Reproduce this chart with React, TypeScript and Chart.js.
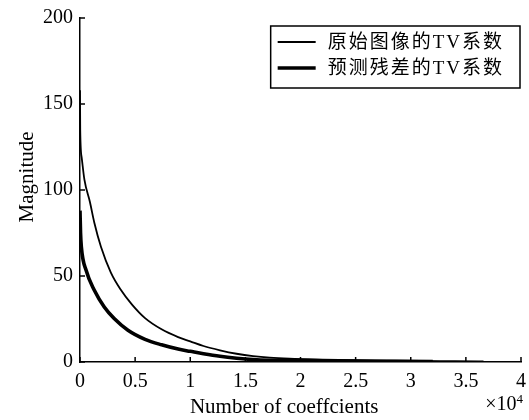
import React, { useEffect, useRef } from 'react';
import { Chart, registerables } from 'chart.js';

Chart.register(...registerables);

// Number of coefficients (absolute counts) and magnitudes
const originalX = [0, 20, 150, 400, 900, 1300, 1900, 2800, 3700, 4700, 5900, 7400, 8900, 10000, 11200, 12700, 14200, 15700, 17200, 19000, 22000, 25000, 28000, 31000, 34000, 36600];
const originalY = [158, 135, 119, 106, 93, 81, 67, 52, 42, 33.5, 25.5, 19, 14.5, 12, 9.3, 6.8, 4.8, 3.4, 2.5, 1.9, 1.4, 1.05, 0.8, 0.6, 0.45, 0.3];

const residualX = [0, 50, 120, 570, 1300, 2200, 3100, 4350, 5900, 7400, 8900, 10000, 11200, 12700, 14200, 15700, 17200, 20000, 24000, 28000, 32000];
const residualY = [88, 75, 67, 53, 41.7, 32, 25.3, 18.5, 13.2, 10, 7.5, 6.2, 4.8, 3.3, 2.2, 1.4, 1.0, 0.75, 0.55, 0.42, 0.3];

const seriesLabels = ['原始图像的TV系数', '预测残差的TV系数'];
const xTitle = 'Number of coeffcients';
const yTitle = 'Magnitude';
const xMultiplierBase = '×10';
const xMultiplierExp = '4';
const xTickValues = [0, 5000, 10000, 15000, 20000, 25000, 30000, 35000, 40000];
const yTickValues = [0, 50, 100, 150, 200];

const SERIF = '"Liberation Serif", "Times New Roman", "Noto Sans CJK SC", serif';

const axisDecor = {
  id: 'axisDecor',
  afterDraw(chart: any) {
    const { ctx, chartArea, scales } = chart;
    ctx.save();
    ctx.strokeStyle = '#000';
    ctx.lineWidth = 1.5;
    const len = 5;
    scales.x.ticks.forEach((t: any) => {
      const px = scales.x.getPixelForValue(t.value);
      ctx.beginPath();
      ctx.moveTo(px, chartArea.bottom);
      ctx.lineTo(px, chartArea.bottom - len);
      ctx.stroke();
    });
    scales.y.ticks.forEach((t: any) => {
      const py = scales.y.getPixelForValue(t.value);
      ctx.beginPath();
      ctx.moveTo(chartArea.left, py);
      ctx.lineTo(chartArea.left + len, py);
      ctx.stroke();
    });
    ctx.fillStyle = '#000';
    // x axis title
    ctx.font = `21px ${SERIF}`;
    ctx.textAlign = 'center';
    ctx.textBaseline = 'alphabetic';
    ctx.fillText(xTitle, chartArea.left + (chartArea.right - chartArea.left) * 0.463, chartArea.bottom + 51);
    // y axis title
    ctx.save();
    ctx.translate(33, chartArea.top + (chartArea.bottom - chartArea.top) * 0.462);
    ctx.rotate(-Math.PI / 2);
    ctx.fillText(yTitle, 0, 0);
    ctx.restore();
    // x10^4 multiplier
    ctx.textAlign = 'right';
    ctx.font = `13px ${SERIF}`;
    const expW = ctx.measureText(xMultiplierExp).width;
    const right = chartArea.right + 2;
    ctx.fillText(xMultiplierExp, right, chartArea.bottom + 41);
    ctx.font = `20px ${SERIF}`;
    ctx.fillText(xMultiplierBase, right - expW, chartArea.bottom + 48);
    ctx.restore();
  },
};

const boxLegend = {
  id: 'boxLegend',
  afterDraw(chart: any) {
    const { ctx, chartArea } = chart;
    const ds = chart.data.datasets;
    ctx.save();
    ctx.font = `19px ${SERIF}`;
    (ctx as any).letterSpacing = '2px';
    const textW = Math.max(...ds.map((d: any) => ctx.measureText(d.label).width));
    const padL = 7, lineLen = 38, gap = 12, padR = 16, rowH = 26, padT = 16;
    const w = padL + lineLen + gap + textW + padR;
    const h = 62;
    const right = chartArea.right - 1;
    const left = right - w;
    const top = chartArea.top + 8;
    ctx.strokeStyle = '#000';
    ctx.lineWidth = 1.5;
    ctx.strokeRect(left, top, w, h);
    ds.forEach((d: any, i: number) => {
      const y = top + padT + i * rowH;
      ctx.beginPath();
      ctx.lineWidth = d.borderWidth;
      ctx.moveTo(left + padL, y);
      ctx.lineTo(left + padL + lineLen, y);
      ctx.stroke();
      ctx.fillStyle = '#000';
      ctx.textBaseline = 'middle';
      ctx.textAlign = 'left';
      ctx.fillText(d.label, left + padL + lineLen + gap, y + 1);
    });
    ctx.restore();
  },
};

export default function App() {
  const ref = useRef<HTMLCanvasElement>(null);
  useEffect(() => {
    if (!ref.current) return;
    const chart = new Chart(ref.current, {
      type: 'line',
      data: {
        datasets: [
          {
            label: seriesLabels[0],
            data: originalX.map((x, i) => ({ x, y: originalY[i] })),
            borderColor: '#000',
            borderWidth: 1.8,
            pointRadius: 0,
            cubicInterpolationMode: 'monotone',
            fill: false,
          },
          {
            label: seriesLabels[1],
            data: residualX.map((x, i) => ({ x, y: residualY[i] })),
            borderColor: '#000',
            borderWidth: 3.6,
            pointRadius: 0,
            cubicInterpolationMode: 'monotone',
            fill: false,
          },
        ],
      },
      options: {
        animation: false,
        responsive: true,
        maintainAspectRatio: false,
        layout: { padding: { top: 18, right: 8, left: 0, bottom: 0 } },
        plugins: { legend: { display: false }, tooltip: { enabled: false } },
        scales: {
          x: {
            type: 'linear',
            min: 0,
            max: 40000,
            afterBuildTicks: (s: any) => { s.ticks = xTickValues.map((v) => ({ value: v })); },
            afterFit: (s: any) => { s.height = 58; s.paddingRight = 0; s.paddingLeft = 0; },
            grid: { display: true, drawOnChartArea: false, drawTicks: false },
            border: { display: true, color: '#000', width: 1.5 },
            ticks: {
              color: '#000',
              padding: 8,
              maxRotation: 0,
              font: { family: SERIF, size: 20 },
              callback: (v: any) => String(Number(v) / 10000),
            },
          },
          y: {
            type: 'linear',
            min: 0,
            max: 200,
            afterBuildTicks: (s: any) => { s.ticks = yTickValues.map((v) => ({ value: v })); },
            afterFit: (s: any) => { s.width = 80; s.paddingTop = 0; s.paddingBottom = 0; },
            grid: { display: true, drawOnChartArea: false, drawTicks: false },
            border: { display: true, color: '#000', width: 1.5 },
            ticks: {
              color: '#000',
              padding: 7,
              font: { family: SERIF, size: 20 },
            },
          },
        },
      },
      plugins: [axisDecor, boxLegend],
    });
    return () => chart.destroy();
  }, []);
  return (
    <div style={{ position: 'absolute', left: 0, top: 0, width: 529, height: 420, background: '#fff' }}>
      <canvas ref={ref} />
    </div>
  );
}
